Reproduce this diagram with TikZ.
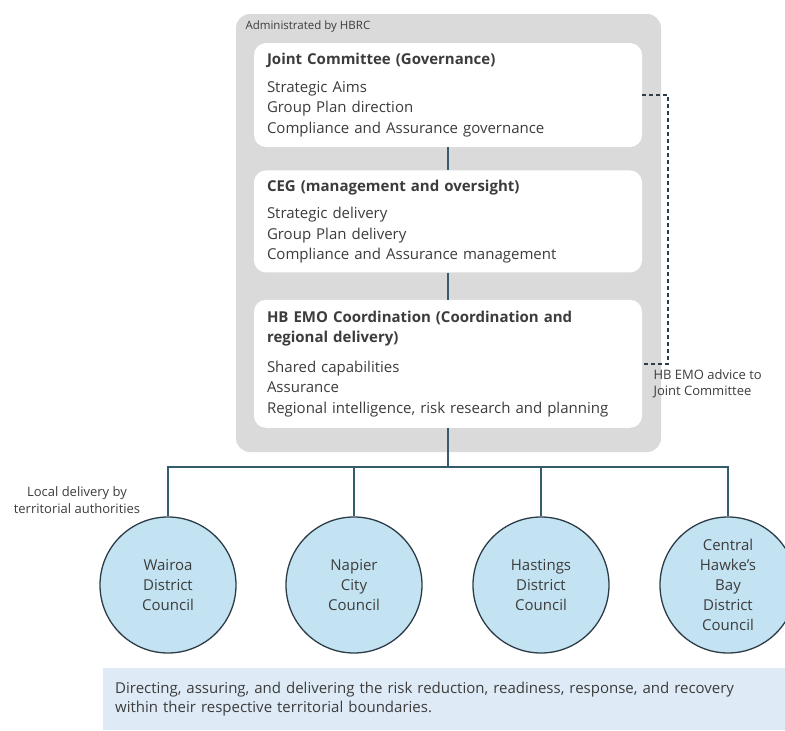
\documentclass[tikz,border=0pt]{standalone}
\usepackage{fontspec}
\setmainfont{Open Sans}
\usetikzlibrary{positioning}

\definecolor{hbgray}{RGB}{218,218,218}
\definecolor{linkcol}{RGB}{52,92,108}
\definecolor{tacircle}{RGB}{196,227,242}
\definecolor{taborder}{RGB}{44,60,72}
\definecolor{notefill}{RGB}{222,235,246}
\definecolor{textcol}{RGB}{60,60,60}

\begin{document}
\begin{tikzpicture}[
        x=1pt, y=-1pt,
        every node/.style={text=textcol},
        panel/.style={fill=white, rounded corners=12pt, text width=362pt, inner xsep=13pt, align=left,
            font=\fontsize{15}{20.5}\selectfont},
        council/.style={circle, draw=taborder, line width=1.3pt, fill=tacircle, minimum size=136pt,
            inner sep=0pt, align=center, font=\fontsize{15}{20}\selectfont},
        smalllabel/.style={font=\fontsize{13}{16.5}\selectfont},
        link/.style={draw=linkcol, line width=1.5pt},
        advice/.style={draw=taborder, line width=1.5pt, dash pattern=on 4pt off 3pt}
    ]

    \useasboundingbox (0,0) rectangle (785,731);

    \node (hbrc) [fill=hbgray, rounded corners=14pt, minimum width=425pt, minimum height=438pt] at (448.5,233) {};
    \node (hbrclabel) [font=\fontsize{11.5}{14}\selectfont, anchor=west] at (242,27) {Administrated by HBRC};

    \node (jc) [panel, minimum height=104pt] at (448,95)
        {\textbf{Joint Committee (Governance)}\\[7pt]Strategic Aims\\Group Plan direction\\Compliance and Assurance governance};
    \node (ceg) [panel, minimum height=102pt, below=23pt of jc]
        {\textbf{CEG (management and oversight)}\\[7pt]Strategic delivery\\Group Plan delivery\\Compliance and Assurance management};
    \node (emo) [panel, minimum height=128pt, below=27pt of ceg]
        {\textbf{HB EMO Coordination (Coordination and}\\\textbf{regional delivery)}\\[9pt]Shared capabilities\\Assurance\\Regional intelligence, risk research and planning};

    \node (advicelabel) [smalllabel, anchor=north west, align=left] at (650,366) {HB EMO advice to\\Joint Committee};
    \node (locallabel) [smalllabel, align=center] at (77,500) {Local delivery by\\territorial authorities};

    \node (wairoa) [council] at (168,585) {Wairoa\\District\\Council};
    \node (napier) [council] at (354,585) {Napier\\City\\Council};
    \node (hastings) [council] at (541,585) {Hastings\\District\\Council};
    \node (chb) [council] at (728,585) {Central\\Hawke’s\\Bay\\District\\Council};

    \node (note) [fill=notefill, anchor=north west, minimum width=700pt, minimum height=62pt, text width=676pt,
        inner xsep=12pt, align=left, font=\fontsize{15}{19}\selectfont] at (103,668)
        {Directing, assuring, and delivering the risk reduction, readiness, response, and recovery\\within their respective territorial boundaries.};

    \coordinate (bus) at ([yshift=-39pt]emo.south);

    \draw [link] (jc) -- (ceg);
    \draw [link] (ceg) -- (emo);
    \draw [link] (emo.south) -- (bus);
    \draw [link] (bus) -| (wairoa.north);
    \draw [link] (bus) -| (napier.north);
    \draw [link] (bus) -| (hastings.north);
    \draw [link] (bus) -| (chb.north);
    \draw [advice] (jc.east) -- ++(26,0) |- (emo.east);

\end{tikzpicture}
\end{document}
